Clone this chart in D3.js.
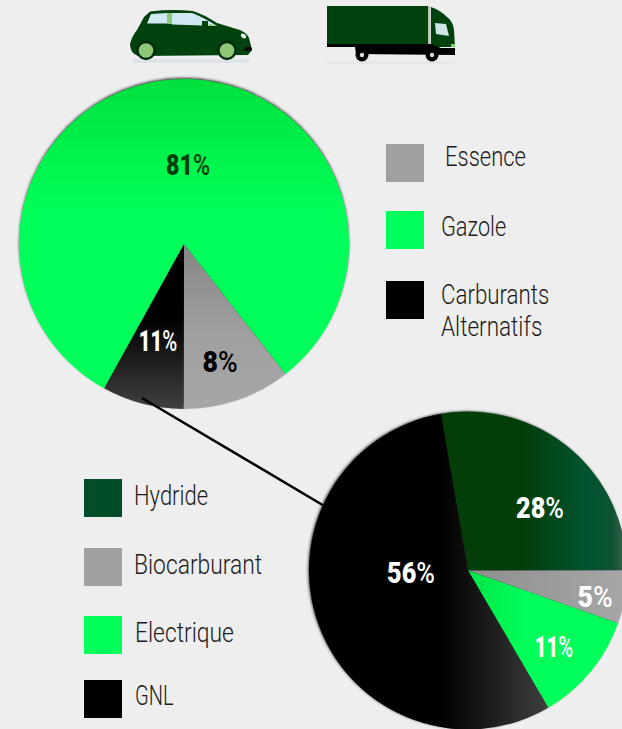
<!DOCTYPE html>
<html><head><meta charset="utf-8">
<script src="https://cdn.jsdelivr.net/npm/d3@7"></script>
<style>
html,body{margin:0;padding:0;background:#eeeeee;overflow:hidden}
svg{display:block}
.leg{font-family:"Roboto",sans-serif;font-weight:300;font-size:27.5px;fill:#1c1c1c}
.val{font-family:"Roboto",sans-serif;font-weight:900;font-size:29px;text-anchor:middle}
.pct{font-weight:500}
</style></head><body>
<svg id="c" width="622" height="729"></svg>
<script>
// Slice sizes; printed labels kept as printed
const mainCategories = ["Essence","Carburants Alternatifs","Gazole"];
const mainValues = [10.6, 8, 81.4];
const mainLabels = ["8","11","81"];
const mainStart = 142;

const subCategories = ["Hydride","Biocarburant","Electrique","GNL"];
const subValues = [27.7, 5.4, 11.2, 55.7];
const subLabels = ["28","5","11","56"];
const subStart = -9.8;

const svg = d3.select("#c");
const defs = svg.append("defs");
const rad = d => d*Math.PI/180;

function gradient(id,[x1,y1,x2,y2],[cx,cy],stops){
  const g = defs.append("linearGradient").attr("id",id).attr("gradientUnits","userSpaceOnUse")
    .attr("x1",x1).attr("y1",y1).attr("x2",x2).attr("y2",y2)
    .attr("gradientTransform",`translate(${-cx},${-cy})`);
  stops.forEach(([o,c])=>g.append("stop").attr("offset",o).attr("stop-color",c));
}
const mc=[184,244], sc=[468,570.5];
gradient("mGreen",[0,79,0,409],mc,[[0,"#00e03f"],[.3,"#00f851"],[.42,"#00ff5a"],[1,"#00ff5a"]]);
gradient("mGray",[0,244,0,409],mc,[[0,"#858585"],[.55,"#a0a0a0"],[1,"#a6a6a6"]]);
gradient("mBlack",[0,244,0,409],mc,[[0,"#000"],[.45,"#000"],[1,"#404040"]]);
gradient("sDark",[441,0,622,0],sc,[[0,"#033e0a"],[.45,"#033e0a"],[.8,"#00532f"],[.95,"#0e5434"],[1,"#35604a"]]);
gradient("sGray",[468,0,622,0],sc,[[0,"#8f8f8f"],[1,"#a6a6a6"]]);
gradient("sGreen",[468,0,620,0],sc,[[0,"#00e646"],[.4,"#00ff5a"],[1,"#00ff5a"]]);
gradient("sBlack",[310,0,550,0],sc,[[0,"#000"],[.55,"#000"],[1,"#404040"]]);

defs.append("filter").attr("id","sh").attr("x","-10%").attr("y","-10%").attr("width","120%").attr("height","120%")
  .append("feGaussianBlur").attr("stdDeviation",1.5);
defs.append("filter").attr("id","soft").attr("x","-5%").attr("y","-5%").attr("width","110%").attr("height","110%")
  .append("feGaussianBlur").attr("stdDeviation",.55);

function drawPie(cx,cy,r,vals,start,fills,hx,hy,hr){
  const pie = d3.pie().sort(null).value(d=>d).startAngle(rad(start)).endAngle(rad(start+360));
  const arc = d3.arc().innerRadius(0).outerRadius(r);
  const g = svg.append("g").attr("transform",`translate(${cx},${cy})`);
  g.append("circle").attr("r",hr).attr("cx",hx).attr("cy",hy).attr("fill","#222").attr("filter","url(#sh)");
  g.selectAll("path.s").data(pie(vals)).join("path").attr("class","s").attr("d",arc).attr("fill",(d,i)=>fills[i]);
}

drawPie(mc[0],mc[1],165,mainValues,mainStart,["url(#mGray)","url(#mBlack)","url(#mGreen)"],0,-1.5,164.5);
svg.append("line").attr("x1",142).attr("y1",398).attr("x2",326).attr("y2",507)
  .attr("stroke","#000").attr("stroke-width",2.6);
drawPie(sc[0],sc[1],159,subValues,subStart,["url(#sDark)","url(#sGray)","url(#sGreen)","url(#sBlack)"],-1.2,-.6,158.5);

const mainLabelPos = [[220,361,"#000",.92],[158,340,"#fff",.7],[188,164,"#033e0a",.8]];
const subLabelPos  = [[540,507,"#fff",.87],[595,596,"#fff",.92],[554,646,"#fff",.7],[411,572,"#fff",.87]];
function vals(labels,pos){
  svg.append("g").selectAll("text").data(labels).join("text").attr("class","val")
    .attr("transform",(d,i)=>`translate(${pos[i][0]},${pos[i][1]+10.5}) scale(${pos[i][3]},1)`)
    .attr("fill",(d,i)=>pos[i][2])
    .each(function(d){
      const t=d3.select(this);
      t.append("tspan").text(d);
      t.append("tspan").attr("class","pct").text("%");
    });
}
vals(mainLabels,mainLabelPos);
vals(subLabels,subLabelPos);

const mainLegend = [["#a0a0a0",386,144,[["Essence",445,166,.80]]],["#00ff5a",386,211,[["Gazole",441,236,.79]]],
  ["#000",386,281,[["Carburants",441,304,.81],["Alternatifs",441,336,.82]]]];
const subLegend = [["#014d2a",84,479,[["Hydride",134,505,.80]]],["#a0a0a0",84,548,[["Biocarburant",134,574,.83]]],
  ["#00ff5a",84,616,[["Electrique",135,642,.83]]],["#000",84,680,[["GNL",135,705,.73]]]];
[...mainLegend,...subLegend].forEach(([c,x,y,ts])=>{
  svg.append("rect").attr("x",x).attr("y",y).attr("width",38).attr("height",38).attr("fill",c);
  ts.forEach(([t,tx,ty,sx])=>svg.append("text").attr("class","leg")
    .attr("transform",`translate(${tx},${ty}) scale(${sx},1)`).text(t));
});

// Car icon
const car = svg.append("g").attr("filter","url(#soft)");
car.append("rect").attr("x",133).attr("y",59).attr("width",117).attr("height",4).attr("fill","#dde3e6");
car.append("path").attr("fill","#04420f").attr("d","M150 11.5 Q172 9 193 11 Q203 14 217 23 L240 30 Q247 33 249 38 L252 50 L248 55 L138 56 Q130 53 130 44 Q132 36 137 30 L144 17 Z");
car.append("path").attr("fill","#cfe9f3").attr("d","M151 14 L167 13 L167 23.5 L147 23.5 Z");
car.append("path").attr("fill","#cfe9f3").attr("d","M172 13 L192 13 Q203 17 217 26 L172 24.5 Z");
car.append("rect").attr("x",167).attr("y",13).attr("width",5).attr("height",11).attr("fill","#8cc878");
car.append("path").attr("fill","#8cc878").attr("d","M210 24 L217 26 L207 26 Z");
car.append("rect").attr("x",202).attr("y",21).attr("width",6).attr("height",6).attr("fill","#04420f");
car.append("rect").attr("x",244).attr("y",47).attr("width",8).attr("height",4).attr("rx",1.5).attr("fill","#111");
car.append("ellipse").attr("cx",243.5).attr("cy",36).attr("rx",3).attr("ry",2).attr("transform","rotate(35 243.5 36)").attr("fill","#e6f2ec");
[146,227].forEach(x=>car.append("circle").attr("cx",x).attr("cy",50.5).attr("r",8.5).attr("fill","#8cc878").attr("stroke","#062a0a").attr("stroke-width",2.4));

// Truck icon
const truck = svg.append("g").attr("filter","url(#soft)");
truck.append("rect").attr("x",327).attr("y",61.5).attr("width",127).attr("height",2).attr("fill","#dde3e6");
truck.append("rect").attr("x",327).attr("y",6).attr("width",101).attr("height",39).attr("fill","#04420f");
truck.append("rect").attr("x",428).attr("y",6).attr("width",2.5).attr("height",38).attr("fill","#b9c4b9");
truck.append("path").attr("fill","#04420f").attr("d","M431 7 Q440 10 447 17 Q453 21 454 30 L455 47 L431 47 Z");
truck.append("path").attr("fill","#cfe6e4").attr("d","M435 23 L446 24 L449 36 L436 34 Z");
truck.append("rect").attr("x",451).attr("y",44).attr("width",4).attr("height",3).attr("fill","#7fd25f");
truck.append("path").attr("fill","#000").attr("d","M327 44 L431 44 L441 48 L455 48 L455 55 L356 54 L355 47 L327 47 Z");
[362,432].forEach(x=>{
  truck.append("circle").attr("cx",x).attr("cy",55).attr("r",6.5).attr("fill","#000");
  truck.append("circle").attr("cx",x).attr("cy",55).attr("r",2.2).attr("fill","#ddd");
});
</script></body></html>
